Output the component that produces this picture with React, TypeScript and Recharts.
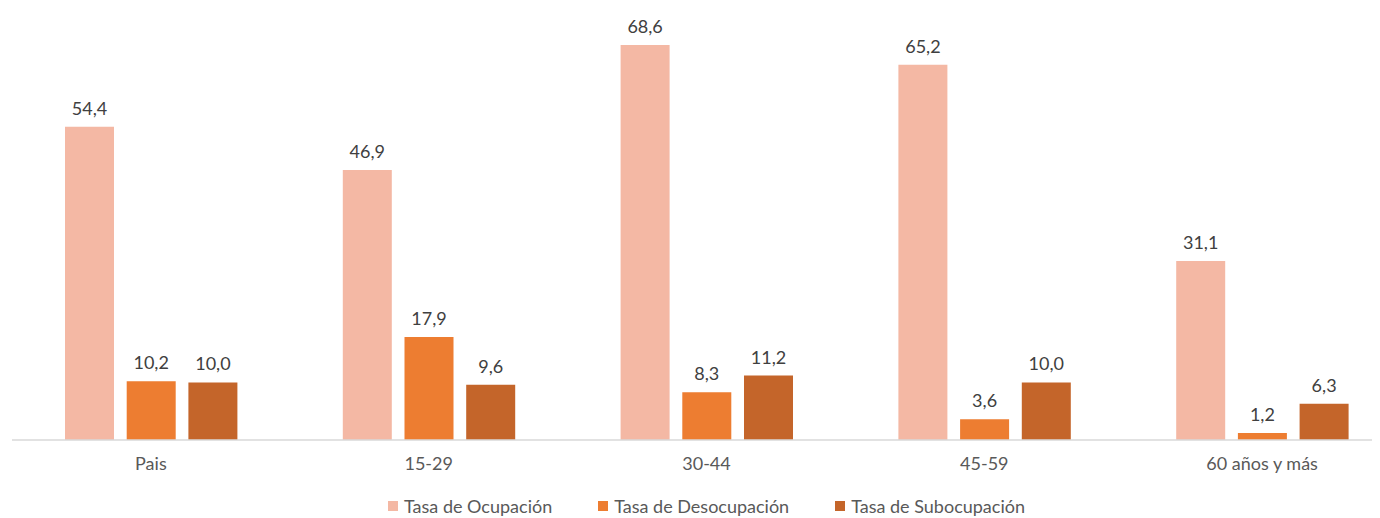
import React from 'react';
import { BarChart, Bar, XAxis, YAxis, LabelList, Legend } from 'recharts';

const categories = ['Pais', '15-29', '30-44', '45-59', '60 años y más'];
const ocupacion = [54.4, 46.9, 68.6, 65.2, 31.1];
const desocupacion = [10.2, 17.9, 8.3, 3.6, 1.2];
const subocupacion = [10.0, 9.6, 11.2, 10.0, 6.3];

const series = [
  { key: 'ocupacion', name: 'Tasa de Ocupación', color: '#F4B8A4' },
  { key: 'desocupacion', name: 'Tasa de Desocupación', color: '#ED7D31' },
  { key: 'subocupacion', name: 'Tasa de Subocupación', color: '#C4652A' },
];

const data = categories.map((name, i) => ({
  name,
  ocupacion: ocupacion[i],
  desocupacion: desocupacion[i],
  subocupacion: subocupacion[i],
}));

const font = 'Lato, "Open Sans", sans-serif';
const fmt = (v: any) => Number(v).toFixed(1).replace('.', ',');

const LegendContent = () => (
  <div style={{ display: 'flex', justifyContent: 'center', height: 24, alignItems: 'center', fontFamily: font, fontSize: 18, color: '#595959' }}>
    {series.map((s) => (
      <div key={s.key} style={{ display: 'flex', alignItems: 'center', margin: '0 23px' }}>
        <span style={{ width: 10, height: 10, background: s.color, marginRight: 6, display: 'inline-block' }} />
        <span>{s.name}</span>
      </div>
    ))}
  </div>
);

export default function App() {
  return (
    <div style={{ width: 1372, height: 510, overflow: 'hidden' }}>
      <BarChart
        width={1393}
        height={510}
        data={data}
        margin={{ top: 29, right: 0, left: 4, bottom: 0 }}
        barCategoryGap={53}
        barGap={12.7}
      >
        <XAxis
          dataKey="name"
          axisLine={{ stroke: '#D9D9D9', strokeWidth: 1.5 }}
          tickLine={false}
          tickSize={0}
          tickMargin={17}
          height={54}
          interval={0}
          tick={{ fill: '#595959', fontSize: 18, fontFamily: font }}
        />
        <YAxis hide domain={[0, 70]} />
        <Legend verticalAlign="bottom" content={LegendContent} />
        {series.map((s) => (
          <Bar key={s.key} dataKey={s.key} name={s.name} fill={s.color} isAnimationActive={false}>
            <LabelList
              dataKey={s.key}
              position="top"
              offset={12}
              formatter={fmt}
              style={{ fill: '#404040', fontSize: 18, fontFamily: font }}
            />
          </Bar>
        ))}
      </BarChart>
    </div>
  );
}
